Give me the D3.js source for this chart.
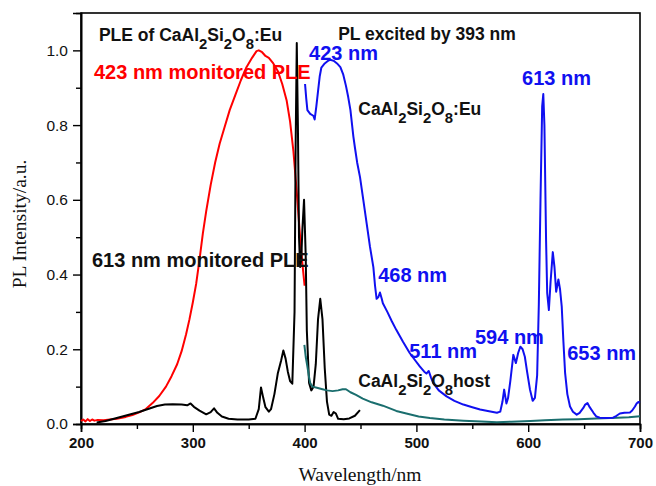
<!DOCTYPE html>
<html><head><meta charset="utf-8">
<script src="https://cdn.jsdelivr.net/npm/d3@7"></script>
<style>html,body{margin:0;padding:0;background:#fff;}svg{display:block;}</style>
</head><body>
<svg id="c" width="656" height="486"></svg>
<script>
// ---- data ----
const xTicks = [200, 300, 400, 500, 600, 700];
const yTicks = [0.0, 0.2, 0.4, 0.6, 0.8, 1.0];

// 423 nm monitored PLE (red)
const ple423 = [[200,0.008],[202,0.012],[204,0.007],[206,0.013],[208,0.008],[210,0.012],[212,0.009],[215,0.011],[220,0.01],[226,0.012],[232,0.014],[240,0.019],[246,0.024],[252,0.031],[258,0.04],[264,0.056],[270,0.075],[276,0.1],[281,0.128],[286,0.16],[290,0.195],[294,0.24],[297,0.28],[300,0.325],[303,0.375],[306,0.44],[309,0.51],[312,0.57],[316,0.64],[320,0.7],[324,0.75],[328,0.79],[333,0.84],[338,0.88],[343,0.92],[348,0.955],[353,0.98],[357,0.998],[359,1.0],[362,0.995],[365,0.985],[368,0.98],[372,0.965],[376,0.945],[380,0.91],[384,0.865],[387,0.81],[390,0.73],[393,0.62],[396,0.5],[398,0.43],[400,0.37]];

// 613 nm monitored PLE (black)
const ple613 = [[214,0.004],[222,0.008],[232,0.016],[242,0.024],[252,0.032],[260,0.04],[268,0.048],[275,0.052],[282,0.053],[290,0.052],[295,0.05],[298,0.055],[301,0.046],[306,0.036],[312,0.026],[316,0.032],[319,0.042],[322,0.03],[326,0.02],[332,0.014],[340,0.012],[350,0.012],[356,0.014],[359,0.04],[361,0.098],[363,0.07],[365,0.045],[368,0.033],[370,0.04],[373,0.08],[376,0.135],[379,0.17],[381,0.197],[383,0.175],[385,0.14],[387,0.115],[389,0.108],[391,0.3],[392,0.75],[393,1.02],[394,0.8],[395,0.5],[396,0.42],[397,0.44],[398,0.52],[399.5,0.6],[401,0.45],[402,0.25],[404,0.11],[406,0.09],[408,0.1],[410,0.16],[412,0.28],[414,0.335],[416,0.28],[418,0.15],[420,0.06],[422,0.025],[424,0.022],[426,0.032],[428,0.028],[430,0.014],[435,0.013],[440,0.015],[445,0.022],[449.5,0.037]];

// PL excited by 393 nm (blue)
const pl393 = [[400.4,0.91],[401.5,0.87],[402.5,0.84],[405,0.83],[407.8,0.825],[409,0.815],[410.5,0.85],[412,0.89],[413.5,0.93],[415,0.954],[418,0.965],[421,0.972],[423,0.975],[426,0.972],[429,0.965],[432,0.955],[434.6,0.935],[437,0.905],[439,0.875],[441,0.84],[443.6,0.77],[445,0.74],[447,0.7],[449.6,0.66],[452.5,0.6],[455.5,0.537],[458.5,0.474],[461.5,0.42],[463,0.37],[464.4,0.335],[466,0.34],[467.4,0.352],[469,0.335],[470,0.323],[474,0.3],[478,0.275],[482,0.252],[488,0.22],[494,0.19],[499,0.17],[503,0.154],[507,0.14],[509,0.135],[511,0.142],[513,0.125],[515,0.11],[520,0.09],[527,0.074],[534,0.062],[542,0.052],[550,0.045],[557,0.039],[565,0.034],[572,0.03],[575,0.033],[577,0.06],[578.5,0.092],[580.5,0.055],[582,0.07],[584,0.115],[586.7,0.185],[589,0.163],[591,0.19],[593,0.207],[595,0.2],[597,0.18],[599,0.14],[601.6,0.092],[604,0.062],[606,0.07],[608,0.13],[609.5,0.32],[611,0.6],[612.5,0.85],[613.5,0.883],[614.5,0.8],[616,0.49],[617,0.35],[618.5,0.305],[620,0.38],[622,0.46],[623.5,0.42],[625,0.354],[627,0.387],[628.5,0.36],[630,0.314],[631.5,0.22],[633,0.137],[635,0.08],[637.4,0.047],[640,0.033],[643.4,0.025],[646,0.03],[649.3,0.043],[651,0.052],[653,0.056],[655,0.045],[658.4,0.03],[661,0.02],[664,0.017],[670,0.016],[676,0.017],[679,0.022],[682,0.028],[686,0.03],[691,0.031],[693,0.036],[695.5,0.047],[697,0.055],[698.5,0.059],[700,0.057]];

// CaAl2Si2O8 host (teal)
const hostPL = [[399.8,0.212],[401,0.18],[402.5,0.154],[404,0.125],[405,0.11],[407,0.1],[411,0.097],[416,0.093],[420,0.09],[425,0.088],[430,0.09],[434,0.093],[437,0.093],[441,0.085],[446,0.078],[452,0.068],[460,0.058],[470,0.049],[482,0.035],[491,0.028],[502,0.02],[512,0.016],[525,0.012],[542,0.009],[558,0.007],[572,0.005],[585,0.006],[602,0.008],[615,0.01],[631,0.012],[645,0.013],[661,0.015],[680,0.017],[690,0.018],[700,0.021]];

// annotation labels: segments [text, isSub], anchor position in data units
const annotations = [
  {segs:[["PLE of CaAl"],["2",1],["Si"],["2",1],["O"],["8",1],[":Eu"]], wl:216, v:1.026, size:17.5, color:"#111"},
  {segs:[["PL excited by 393 nm"]], wl:430, v:1.029, size:17.5, color:"#111"},
  {segs:[["423 nm monitored PLE"]], wl:211.6, v:0.924, size:20, color:"#ff0000"},
  {segs:[["613 nm monitored PLE"]], wl:209.8, v:0.42, size:20, color:"#111"},
  {segs:[["423 nm"]], wl:404, v:0.975, size:20, color:"#1010f0"},
  {segs:[["CaAl"],["2",1],["Si"],["2",1],["O"],["8",1],[":Eu"]], wl:248+200, v:0.827, size:17.5, color:"#111"},
  {segs:[["613 nm"]], wl:594.5, v:0.906, size:20, color:"#1010f0"},
  {segs:[["468 nm"]], wl:465.8, v:0.38, size:20, color:"#1010f0"},
  {segs:[["511 nm"]], wl:493.6, v:0.176, size:20, color:"#1010f0"},
  {segs:[["594 nm"]], wl:552.4, v:0.214, size:20, color:"#1010f0"},
  {segs:[["653 nm"]], wl:634.9, v:0.172, size:20, color:"#1010f0"},
  {segs:[["CaAl"],["2",1],["Si"],["2",1],["O"],["8",1],["host"]], wl:448, v:0.1, size:17.5, color:"#111"}
];

// ---- chart ----
const W = 656, H = 486;
const m = {l:81, t:13, r:16, b:62};
const svg = d3.select("#c");
const x = d3.scaleLinear().domain([200, 700]).range([m.l, W - m.r]);
const y = d3.scaleLinear().domain([0, 1.1]).range([H - m.b, m.t]);

const line = d3.line().x(d => x(d[0])).y(d => y(d[1]));

// frame
svg.append("rect").attr("x", m.l).attr("y", m.t)
  .attr("width", W - m.l - m.r).attr("height", H - m.t - m.b)
  .attr("fill", "none").attr("stroke", "#000").attr("stroke-width", 1.6);

// x axis
const gx = svg.append("g").attr("transform", `translate(0,${H - m.b})`)
  .call(d3.axisBottom(x).tickValues(xTicks).tickSize(8).tickPadding(5).tickFormat(d3.format("d")));
svg.append("g").attr("transform", `translate(0,${H - m.b})`)
  .call(d3.axisBottom(x).tickValues(d3.range(250, 700, 100)).tickSize(5).tickFormat(""));
// y axis
const gy = svg.append("g").attr("transform", `translate(${m.l},0)`)
  .call(d3.axisLeft(y).tickValues(yTicks).tickSize(8).tickPadding(5).tickFormat(d3.format(".1f")));
svg.append("g").attr("transform", `translate(${m.l},0)`)
  .call(d3.axisLeft(y).tickValues([0.1,0.3,0.5,0.7,0.9]).tickSize(5).tickFormat(""));

svg.selectAll(".domain").attr("stroke", "#000").attr("stroke-width", 1.6);
svg.selectAll(".tick line").attr("stroke", "#000").attr("stroke-width", 1.4);
gx.selectAll("text").attr("font-family", "Liberation Sans, Arial, sans-serif")
  .attr("font-size", 15).attr("font-weight", "bold").attr("fill", "#111");
gy.selectAll("text").attr("font-family", "Liberation Sans, Arial, sans-serif")
  .attr("font-size", 15.5).attr("fill", "#111");

// axis titles
svg.append("text").attr("x", 360).attr("y", 481).attr("text-anchor", "middle")
  .attr("font-family", "Liberation Serif, Times New Roman, serif").attr("font-size", 19.5)
  .attr("fill", "#111").text("Wavelength/nm");
svg.append("text").attr("transform", "translate(26,224) rotate(-90)").attr("text-anchor", "middle")
  .attr("font-family", "Liberation Serif, Times New Roman, serif").attr("font-size", 19.5)
  .attr("fill", "#111").text("PL Intensity/a.u.");

// curves
const series = [
  {data: ple423, color: "#ff0000"},
  {data: ple613, color: "#000000"},
  {data: hostPL, color: "#1a6e6e"},
  {data: pl393, color: "#1010f0"}
];
svg.append("g").selectAll("path").data(series).join("path")
  .attr("d", d => line(d.data)).attr("fill", "none")
  .attr("stroke", d => d.color).attr("stroke-width", 2).attr("stroke-linejoin", "round");

// annotations
annotations.forEach(a => {
  const t = svg.append("text").attr("x", x(a.wl)).attr("y", y(a.v))
    .attr("font-family", "Liberation Sans, Arial, sans-serif").attr("font-weight", "bold")
    .attr("font-size", a.size).attr("fill", a.color);
  let sub = false;
  const sh = Math.round(a.size * 0.45);
  a.segs.forEach(s => {
    const isSub = !!s[1];
    const ts = t.append("tspan").text(s[0]);
    if (isSub) ts.attr("font-size", a.size * 0.85);
    if (isSub && !sub) ts.attr("dy", sh);
    else if (!isSub && sub) ts.attr("dy", -sh);
    sub = isSub;
  });
});
</script>
</body></html>
